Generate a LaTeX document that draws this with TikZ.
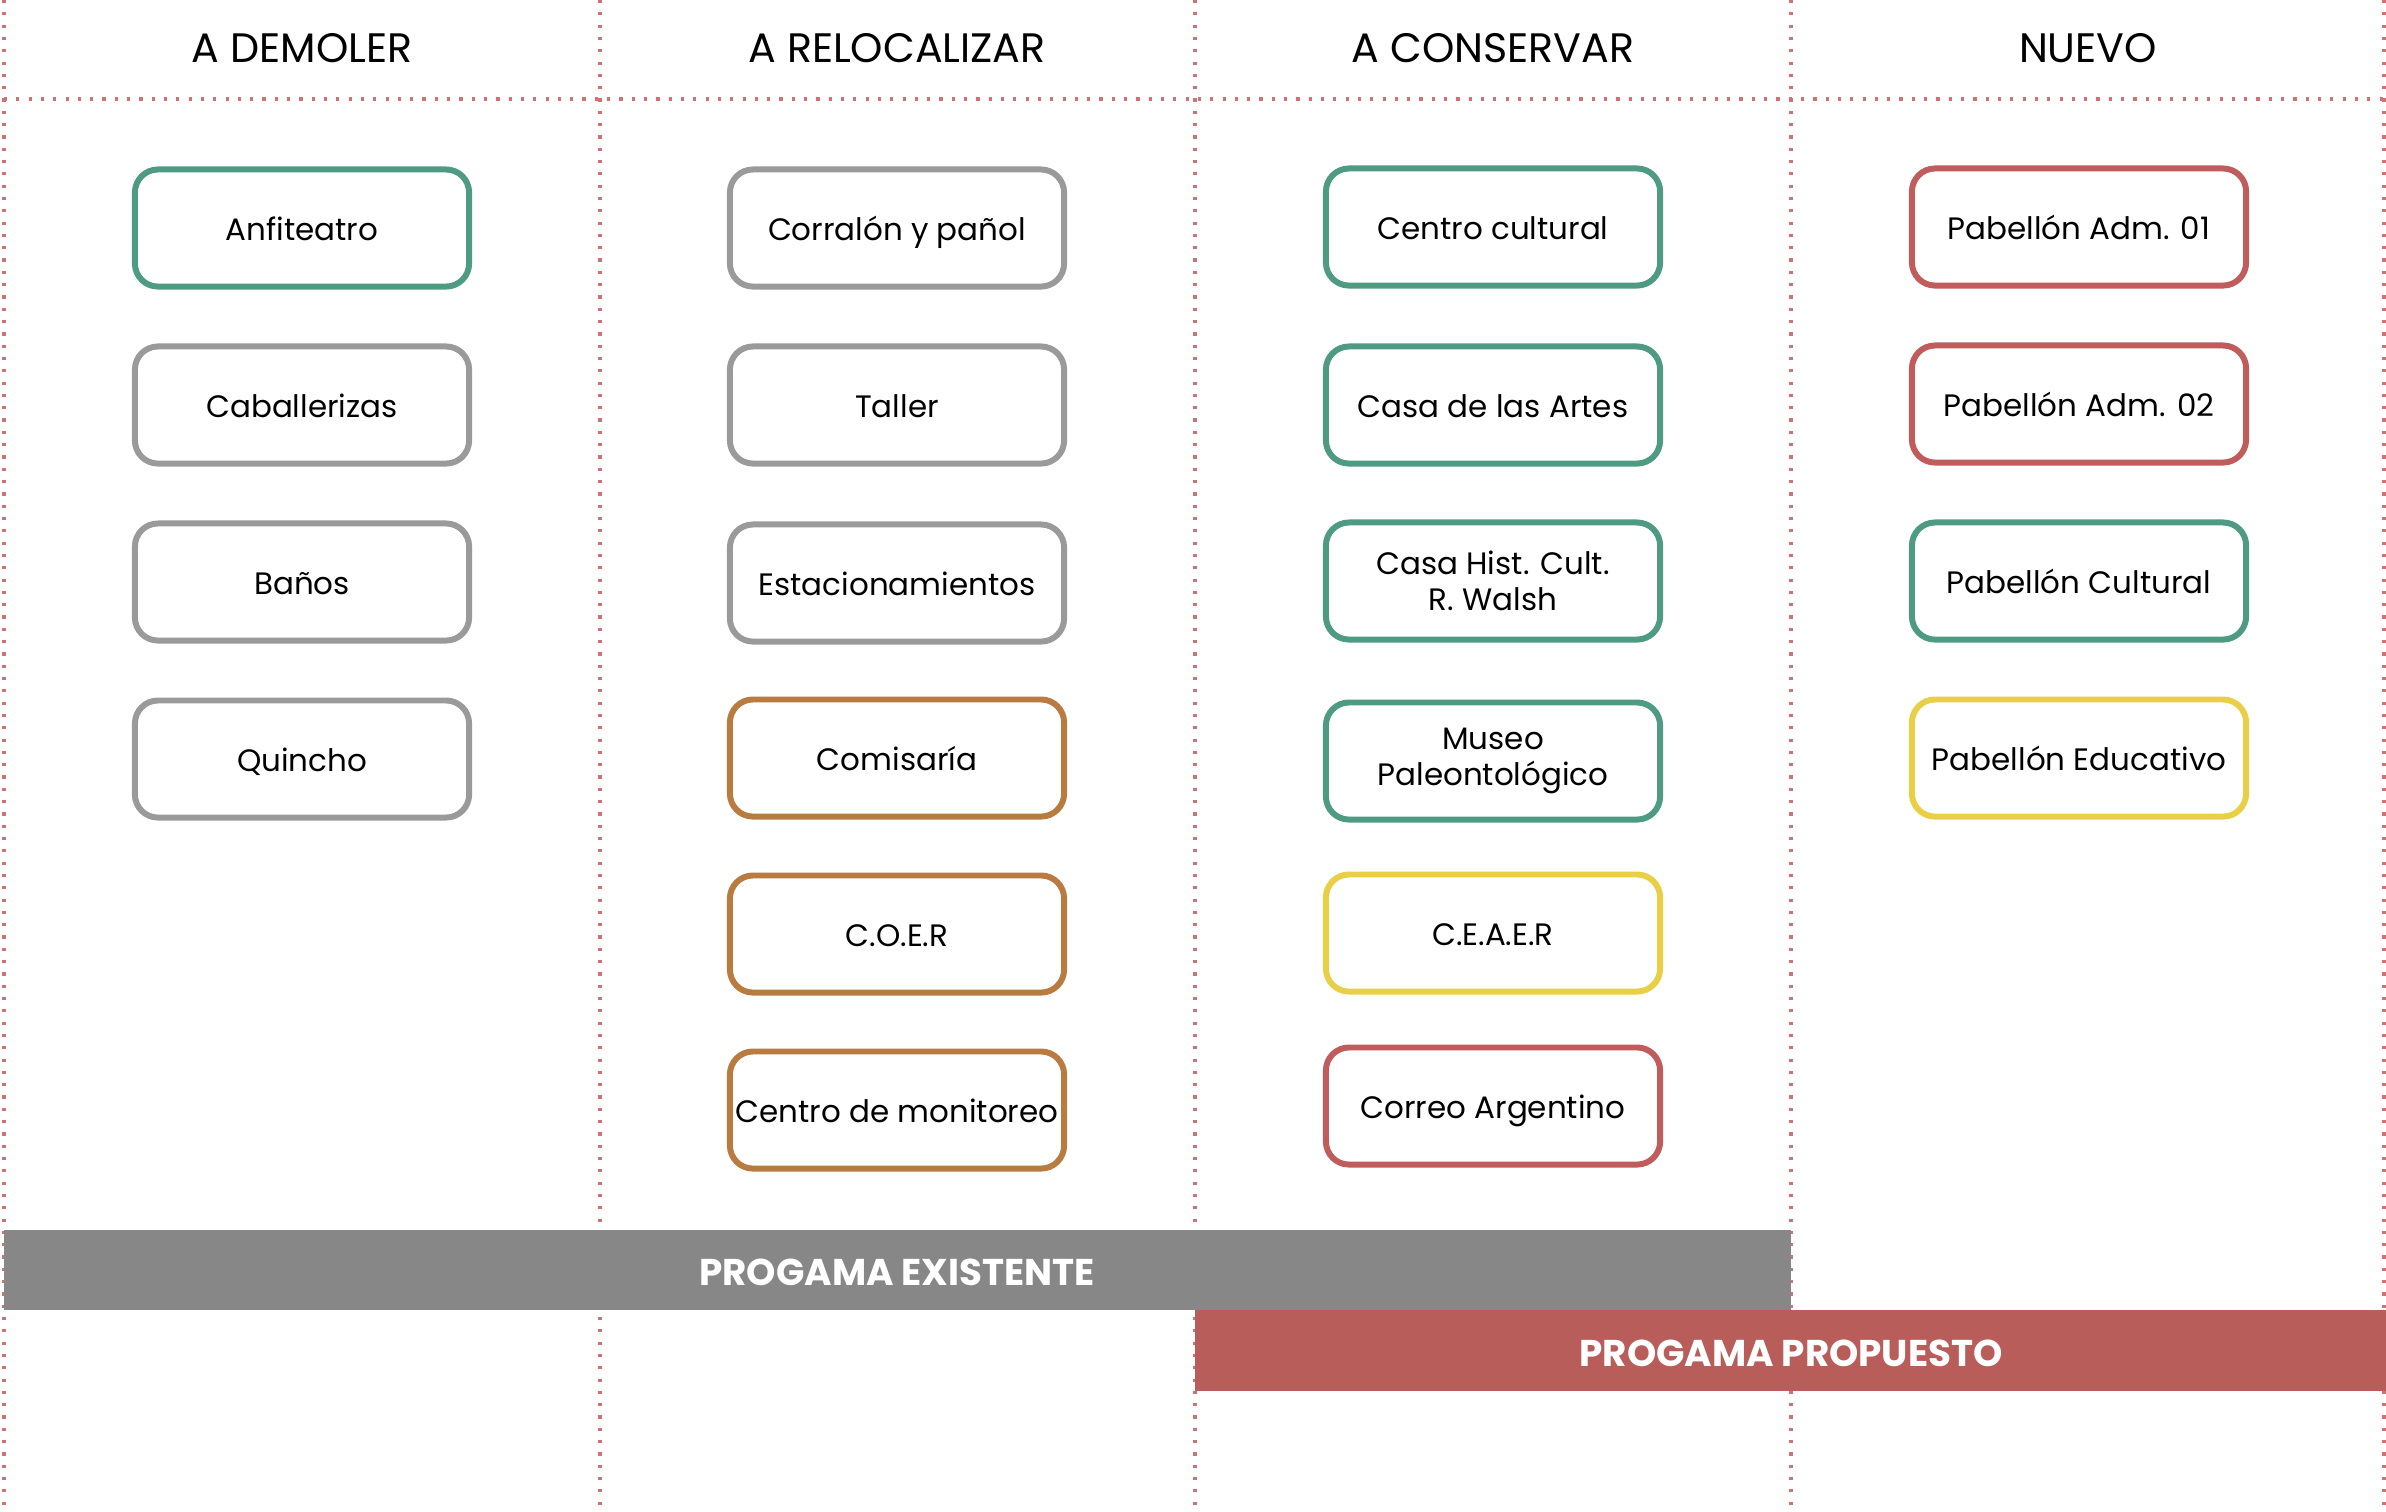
\documentclass[tikz,border=0pt]{standalone}
\usepackage{fontspec}
\setmainfont{Poppins}
\usepackage{tikz}
\usepackage{xcolor}

\definecolor{verde}{HTML}{4E9A83}
\definecolor{gris}{HTML}{9A9A9A}
\definecolor{ocre}{HTML}{B87B40}
\definecolor{amarillo}{HTML}{E8CF45}
\definecolor{rojo}{HTML}{C05C5C}
\definecolor{puntos}{HTML}{C8585A}
\definecolor{bandagris}{HTML}{878787}
\definecolor{bandaroja}{HTML}{B85D5A}

\tikzset{
  caja/.style={draw=#1, line width=1.7pt, rounded corners=0.23cm, fill=white,
    minimum width=3.34cm, minimum height=1.17cm, align=center, inner xsep=1pt,
    font=\fontsize{8.8}{10.4}\selectfont},
  linea/.style={text height=0.7em, text depth=0pt},
  titulo/.style={font=\fontsize{11.7}{13}\selectfont},
  banda/.style={text=white, font=\fontsize{10.6}{12}\selectfont\bfseries},
  guia/.style={puntos!85, line width=0.9pt, dash pattern=on 0.9pt off 2.6pt}
}

\begin{document}
\begin{tikzpicture}[x=0.01cm, y=-0.01cm]
		\useasboundingbox (0,0) rectangle (2386,1511);

		% Dotted guide lines between the columns
		\draw[guia] (4,0) -- (4,1511);
		\draw[guia] (600,0) -- (600,1511);
		\draw[guia] (1195,0) -- (1195,1511);
		\draw[guia] (1791,0) -- (1791,1511);
		\draw[guia] (2384,0) -- (2384,1511);
		\draw[guia] (4,99) -- (2386,99);

		% Column titles
		\node[titulo] (tdemoler) at (302,48) {A DEMOLER};
		\node[titulo] (trelocalizar) at (897,48) {A RELOCALIZAR};
		\node[titulo] (tconservar) at (1493,48) {A CONSERVAR};
		\node[titulo] (tnuevo) at (2088,48) {NUEVO};

		% A demoler
		\node[caja=verde, linea] (anfiteatro) at (302,228) {Anfiteatro};
		\node[caja=gris, linea] (caballerizas) at (302,405) {Caballerizas};
		\node[caja=gris, linea] (banos) at (302,582) {Baños};
		\node[caja=gris, linea] (quincho) at (302,759) {Quincho};

		% A relocalizar
		\node[caja=gris, linea] (corralon) at (897,228) {Corralón y pañol};
		\node[caja=gris, linea] (taller) at (897,405) {Taller};
		\node[caja=gris, linea] (estacionamientos) at (897,583) {Estacionamientos};
		\node[caja=ocre, linea] (comisaria) at (897,758) {Comisaría};
		\node[caja=ocre, linea] (coer) at (897,934) {C.O.E.R};
		\node[caja=ocre, linea] (monitoreo) at (897,1110) {Centro de monitoreo};

		% A conservar
		\node[caja=verde, linea] (cultural) at (1493,227) {Centro cultural};
		\node[caja=verde, linea] (artes) at (1493,405) {Casa de las Artes};
		\node[caja=verde] (walsh) at (1493,581) {Casa Hist. Cult.\\R. Walsh};
		\node[caja=verde] (museo) at (1493,761) {Museo\\Paleontológico};
		\node[caja=amarillo, linea] (ceaer) at (1493,933) {C.E.A.E.R};
		\node[caja=rojo, linea] (correo) at (1493,1106) {Correo Argentino};

		% Nuevo
		\node[caja=rojo, linea] (adm1) at (2079,227) {Pabellón Adm. 01};
		\node[caja=rojo, linea] (adm2) at (2079,404) {Pabellón Adm. 02};
		\node[caja=verde, linea] (pcultural) at (2079,581) {Pabellón Cultural};
		\node[caja=amarillo, linea] (educativo) at (2079,758) {Pabellón Educativo};

		% Bands at the bottom
		\fill[bandagris] (4,1230) rectangle (1791,1310);
		\node[banda] (existente) at (897,1272) {PROGAMA EXISTENTE};
		\fill[bandaroja] (1195,1310) rectangle (2386,1391);
		\node[banda] (propuesto) at (1791,1353) {PROGAMA PROPUESTO};
	\end{tikzpicture}
\end{document}
